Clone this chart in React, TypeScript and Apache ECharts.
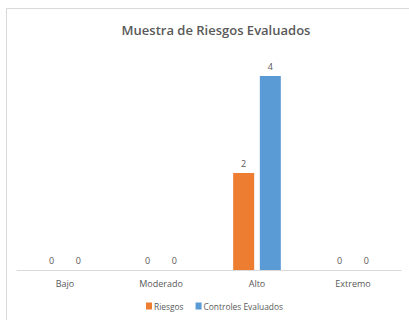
import React, { useEffect, useRef } from "react";
import * as echarts from "echarts";

const categories = ["Bajo", "Moderado", "Alto", "Extremo"];
const riesgos = [0, 0, 2, 0];
const controles = [0, 0, 4, 0];
const seriesNames = ["Riesgos", "Controles Evaluados"];
const titleText = "Muestra de Riesgos Evaluados";

export default function App() {
  const ref = useRef<HTMLDivElement>(null);
  useEffect(() => {
    const chart = echarts.init(ref.current!, null, { renderer: "svg" });
    const font = "'Open Sans', 'Noto Sans', sans-serif";
    const label = {
      show: true,
      position: "top",
      color: "#595959",
      fontSize: 9,
      fontFamily: font,
      distance: 5,
    };
    chart.setOption({
      animation: false,
      backgroundColor: "#ffffff",
      graphic: [
        {
          type: "rect",
          shape: { x: 6.5, y: 8.5, width: 440, height: 340 },
          style: { fill: "none", stroke: "#d9d9d9", lineWidth: 1 },
          silent: true,
        },
      ],
      title: {
        text: titleText,
        left: 211,
        textAlign: "center",
        top: 18,
        textStyle: { color: "#595959", fontSize: 13, fontWeight: 600, fontFamily: font },
      },
      legend: {
        data: seriesNames,
        bottom: 5,
        left: 141,
        itemWidth: 6,
        itemHeight: 7,
        itemGap: 12,
        icon: "rect",
        textStyle: { color: "#595959", fontSize: 8.4, fontFamily: font, padding: [0, 0, 0, -3] },
      },
      grid: { left: 17, right: 8, top: 76, bottom: 50 },
      xAxis: {
        type: "category",
        data: categories,
        axisLine: { lineStyle: { color: "#d9d9d9" } },
        axisTick: { show: false },
        axisLabel: { color: "#595959", fontSize: 9, fontFamily: font, margin: 9 },
      },
      yAxis: {
        type: "value",
        min: 0,
        max: 4,
        show: false,
        splitLine: { show: false },
      },
      series: [
        {
          name: seriesNames[0],
          type: "bar",
          data: riesgos,
          barWidth: 21,
          barGap: "27%",
          itemStyle: { color: "#ED7D31" },
          label,
        },
        {
          name: seriesNames[1],
          type: "bar",
          data: controles,
          barWidth: 21,
          itemStyle: { color: "#5B9BD5" },
          label,
        },
      ],
    });
    return () => chart.dispose();
  }, []);
  return (
    <div
      ref={ref}
      style={{ position: "fixed", left: 0, top: 0, width: 409, height: 320 }}
    />
  );
}
